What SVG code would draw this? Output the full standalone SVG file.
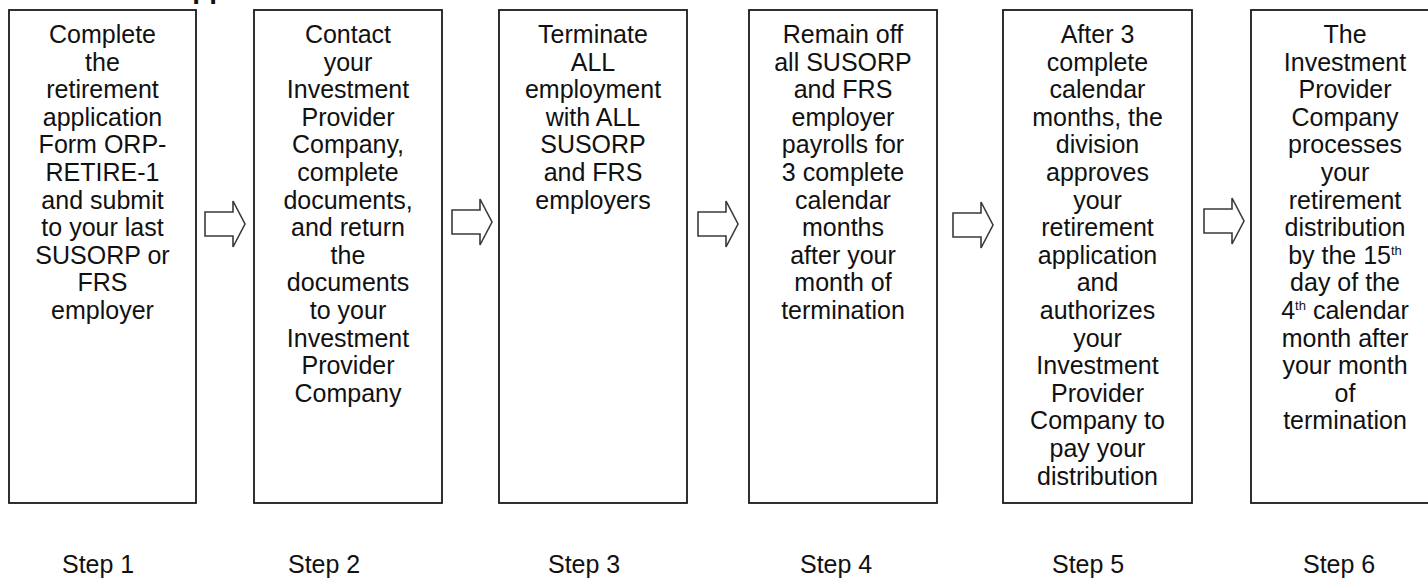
<svg xmlns="http://www.w3.org/2000/svg" xmlns:xlink="http://www.w3.org/1999/xlink" width="1428" height="578" viewBox="0 0 1428 578">
<style>
.box{fill:#fff;stroke:#1a1a1a;stroke-width:1.8}
.t{font-family:"Liberation Sans",Arial,sans-serif;font-size:25px;fill:#111;text-anchor:middle}
.step{font-family:"Liberation Sans",Arial,sans-serif;font-size:25px;fill:#111}
.arr{fill:#fff;stroke:#3a3a3a;stroke-width:1.6;stroke-linejoin:miter}
.sup{font-size:13px}
.head{font-family:"Liberation Sans",Arial,sans-serif;font-size:28px;font-weight:bold;fill:#111}
</style>
<defs>
<path id="blockArrow" class="arr" d="M0,-12 H28 V-23 L40,0 L28,23 V12 H0 Z"/>
</defs>
<rect width="1428" height="578" fill="#fff"/>
<text class="head" x="172" y="-2">Application</text>
<g id="connectors">
<use xlink:href="#blockArrow" transform="translate(205,224)"/>
<use xlink:href="#blockArrow" transform="translate(452,222)"/>
<use xlink:href="#blockArrow" transform="translate(698,224)"/>
<use xlink:href="#blockArrow" transform="translate(953,225)"/>
<use xlink:href="#blockArrow" transform="translate(1204,221)"/>
</g>
<g id="step1">
<rect class="box" x="9" y="10" width="187" height="493"/>
<text class="t" y="43"><tspan x="102.5">Complete</tspan><tspan x="102.5" dy="27.6">the</tspan><tspan x="102.5" dy="27.6">retirement</tspan><tspan x="102.5" dy="27.6">application</tspan><tspan x="102.5" dy="27.6">Form ORP-</tspan><tspan x="102.5" dy="27.6">RETIRE-1</tspan><tspan x="102.5" dy="27.6">and submit</tspan><tspan x="102.5" dy="27.6">to your last</tspan><tspan x="102.5" dy="27.6">SUSORP or</tspan><tspan x="102.5" dy="27.6">FRS</tspan><tspan x="102.5" dy="27.6">employer</tspan></text>
<text class="step" x="62" y="573">Step 1</text>
</g>
<g id="step2">
<rect class="box" x="254" y="10" width="188" height="493"/>
<text class="t" y="43"><tspan x="348">Contact</tspan><tspan x="348" dy="27.6">your</tspan><tspan x="348" dy="27.6">Investment</tspan><tspan x="348" dy="27.6">Provider</tspan><tspan x="348" dy="27.6">Company,</tspan><tspan x="348" dy="27.6">complete</tspan><tspan x="348" dy="27.6">documents,</tspan><tspan x="348" dy="27.6">and return</tspan><tspan x="348" dy="27.6">the</tspan><tspan x="348" dy="27.6">documents</tspan><tspan x="348" dy="27.6">to your</tspan><tspan x="348" dy="27.6">Investment</tspan><tspan x="348" dy="27.6">Provider</tspan><tspan x="348" dy="27.6">Company</tspan></text>
<text class="step" x="288" y="573">Step 2</text>
</g>
<g id="step3">
<rect class="box" x="499" y="10" width="188" height="493"/>
<text class="t" y="43"><tspan x="593">Terminate</tspan><tspan x="593" dy="27.6">ALL</tspan><tspan x="593" dy="27.6">employment</tspan><tspan x="593" dy="27.6">with ALL</tspan><tspan x="593" dy="27.6">SUSORP</tspan><tspan x="593" dy="27.6">and FRS</tspan><tspan x="593" dy="27.6">employers</tspan></text>
<text class="step" x="548" y="573">Step 3</text>
</g>
<g id="step4">
<rect class="box" x="749" y="10" width="188" height="493"/>
<text class="t" y="43"><tspan x="843">Remain off</tspan><tspan x="843" dy="27.6">all SUSORP</tspan><tspan x="843" dy="27.6">and FRS</tspan><tspan x="843" dy="27.6">employer</tspan><tspan x="843" dy="27.6">payrolls for</tspan><tspan x="843" dy="27.6">3 complete</tspan><tspan x="843" dy="27.6">calendar</tspan><tspan x="843" dy="27.6">months</tspan><tspan x="843" dy="27.6">after your</tspan><tspan x="843" dy="27.6">month of</tspan><tspan x="843" dy="27.6">termination</tspan></text>
<text class="step" x="800" y="573">Step 4</text>
</g>
<g id="step5">
<rect class="box" x="1003" y="10" width="189" height="493"/>
<text class="t" y="43"><tspan x="1097.5">After 3</tspan><tspan x="1097.5" dy="27.6">complete</tspan><tspan x="1097.5" dy="27.6">calendar</tspan><tspan x="1097.5" dy="27.6">months, the</tspan><tspan x="1097.5" dy="27.6">division</tspan><tspan x="1097.5" dy="27.6">approves</tspan><tspan x="1097.5" dy="27.6">your</tspan><tspan x="1097.5" dy="27.6">retirement</tspan><tspan x="1097.5" dy="27.6">application</tspan><tspan x="1097.5" dy="27.6">and</tspan><tspan x="1097.5" dy="27.6">authorizes</tspan><tspan x="1097.5" dy="27.6">your</tspan><tspan x="1097.5" dy="27.6">Investment</tspan><tspan x="1097.5" dy="27.6">Provider</tspan><tspan x="1097.5" dy="27.6">Company to</tspan><tspan x="1097.5" dy="27.6">pay your</tspan><tspan x="1097.5" dy="27.6">distribution</tspan></text>
<text class="step" x="1052" y="573">Step 5</text>
</g>
<g id="step6">
<rect class="box" x="1251" y="10" width="190" height="493"/>
<text class="t" y="43"><tspan x="1345">The</tspan><tspan x="1345" dy="27.6">Investment</tspan><tspan x="1345" dy="27.6">Provider</tspan><tspan x="1345" dy="27.6">Company</tspan><tspan x="1345" dy="27.6">processes</tspan><tspan x="1345" dy="27.6">your</tspan><tspan x="1345" dy="27.6">retirement</tspan><tspan x="1345" dy="27.6">distribution</tspan><tspan x="1345" dy="27.6">by the 15<tspan class="sup" dy="-9">th</tspan></tspan><tspan x="1345" dy="36.6">day of the</tspan><tspan x="1345" dy="27.6">4<tspan class="sup" dy="-9">th</tspan><tspan dy="9"> calendar</tspan></tspan><tspan x="1345" dy="27.6">month after</tspan><tspan x="1345" dy="27.6">your month</tspan><tspan x="1345" dy="27.6">of</tspan><tspan x="1345" dy="27.6">termination</tspan></text>
<text class="step" x="1303" y="573">Step 6</text>
</g>
</svg>
